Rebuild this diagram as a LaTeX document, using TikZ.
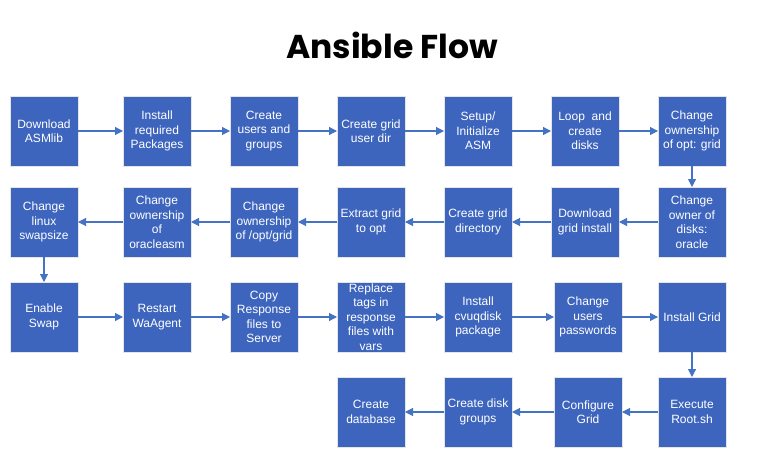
\documentclass[tikz,border=0pt]{standalone}
\usepackage{fontspec}
\setmainfont{Liberation Sans}
\newfontfamily\titlefont{Poppins}
\usetikzlibrary{arrows.meta, positioning}
\definecolor{boxblue}{RGB}{62,101,190}
\definecolor{arrowblue}{RGB}{68,114,196}
\tikzstyle{block} = [rectangle, fill=boxblue, draw=white!80!gray, line width=0.8pt, outer sep=0pt, minimum width=68pt, minimum height=70pt, inner sep=0pt, align=center, text=white, font=\fontsize{12}{14.5}\selectfont]
\tikzstyle{arrow} = [arrowblue, line width=1.1pt, -{Triangle[length=8pt, width=8pt]}]
\begin{document}
\begin{tikzpicture}[node distance = 39pt]
	\useasboundingbox (0pt,0pt) rectangle (770pt,-465pt);
	\node (Title) at (392pt,-45pt) {\titlefont\bfseries\fontsize{33}{38}\selectfont Ansible Flow};
	% row 1
	\node (Download) [block] at (44pt,-131pt) {Download\\ASMlib};
	\node (Packages) [block, right = 45pt of Download] {Install\\required\\Packages};
	\node (Users) [block, right = of Packages] {Create\\users and\\groups};
	\node (GridDir) [block, right = of Users] {Create grid\\user dir};
	\node (Setup) [block, right = of GridDir] {Setup/\\Initialize\\ASM};
	\node (Disks) [block, right = of Setup] {Loop\ \ and\\create\\disks};
	\node (OwnOpt) [block, right = of Disks] {Change\\ownership\\of opt: grid};
	% row 2
	\node (OwnDisks) [block, below = 21pt of OwnOpt] {Change\\owner of\\disks:\\oracle};
	\node (GetGrid) [block, below = 21pt of Disks] {Download\\grid install};
	\node (GridDirectory) [block, below = 21pt of Setup] {Create grid\\directory};
	\node (Extract) [block, below = 21pt of GridDir] {Extract grid\\to opt};
	\node (OwnGrid) [block, below = 21pt of Users] {Change\\ownership\\of /opt/grid};
	\node (OwnAsm) [block, below = 21pt of Packages] {Change\\ownership\\of\\oracleasm};
	\node (Swapsize) [block, below = 21pt of Download] {Change\\linux\\swapsize};
	% row 3
	\node (Swap) [block, below = 25pt of Swapsize] {Enable\\Swap};
	\node (Agent) [block, below = 25pt of OwnAsm] {Restart\\WaAgent};
	\node (Response) [block, below = 25pt of OwnGrid] {Copy\\Response\\files to\\Server};
	\node (Tags) [block, below = 25pt of Extract] {Replace\\tags in\\response\\files with\\vars};
	\node (Cvuqdisk) [block, below = 25pt of GridDirectory] {Install\\cvuqdisk\\package};
	\node (Passwords) [block, below = 25pt of GetGrid, xshift=3pt] {Change\\users\\passwords};
	\node (InstallGrid) [block, below = 25pt of OwnDisks] {Install Grid};
	% row 4
	\node (Root) [block, below = 25pt of InstallGrid] {Execute\\Root.sh};
	\node (Configure) [block, below = 25pt of Passwords] {Configure\\Grid};
	\node (DiskGroups) [block, below = 25pt of Cvuqdisk] {Create disk\\groups};
	\node (Database) [block, below = 25pt of Tags] {Create\\database};
	% connectors
	\draw [arrow] (Download) -- (Packages);
	\draw [arrow] (Packages) -- (Users);
	\draw [arrow] (Users) -- (GridDir);
	\draw [arrow] (GridDir) -- (Setup);
	\draw [arrow] (Setup) -- (Disks);
	\draw [arrow] (Disks) -- (OwnOpt);
	\draw [arrow] (OwnOpt) -- (OwnDisks);
	\draw [arrow] (OwnDisks) -- (GetGrid);
	\draw [arrow] (GetGrid) -- (GridDirectory);
	\draw [arrow] (GridDirectory) -- (Extract);
	\draw [arrow] (Extract) -- (OwnGrid);
	\draw [arrow] (OwnGrid) -- (OwnAsm);
	\draw [arrow] (OwnAsm) -- (Swapsize);
	\draw [arrow] (Swapsize) -- (Swap);
	\draw [arrow] (Swap) -- (Agent);
	\draw [arrow] (Agent) -- (Response);
	\draw [arrow] (Response) -- (Tags);
	\draw [arrow] (Tags) -- (Cvuqdisk);
	\draw [arrow] (Cvuqdisk) -- (Passwords);
	\draw [arrow] (Passwords) -- (InstallGrid);
	\draw [arrow] (InstallGrid) -- (Root);
	\draw [arrow] (Root) -- (Configure);
	\draw [arrow] (Configure) -- (DiskGroups);
	\draw [arrow] (DiskGroups) -- (Database);
\end{tikzpicture}
\end{document}
